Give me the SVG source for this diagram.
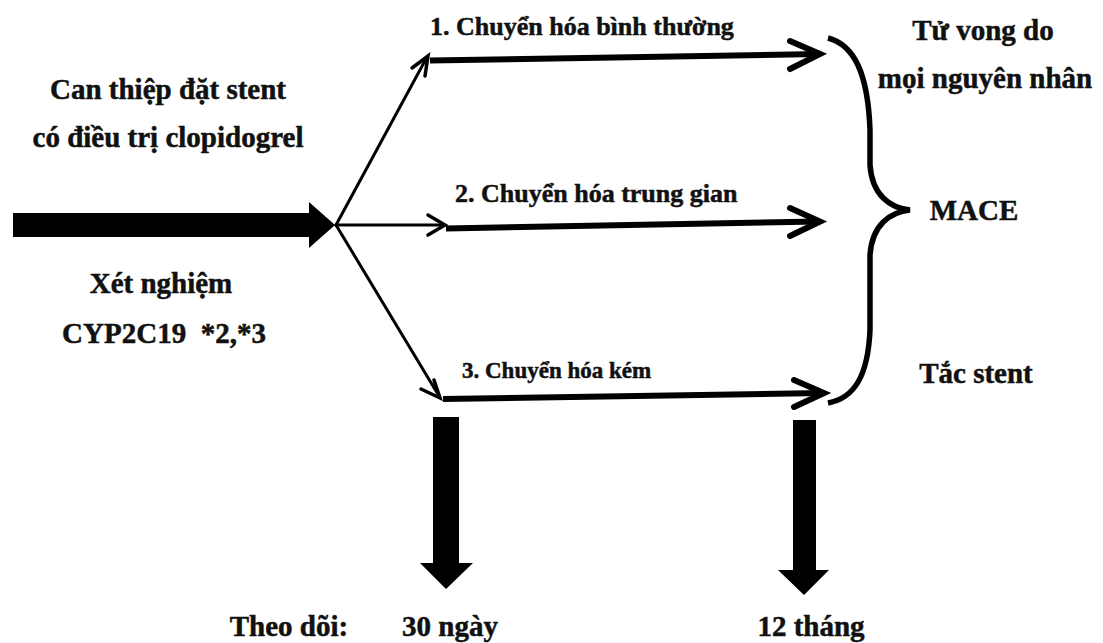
<svg xmlns="http://www.w3.org/2000/svg" width="1103" height="643" viewBox="0 0 1103 643">
<style>
text{font-family:"Liberation Serif","Times New Roman",serif;font-weight:bold;fill:#111;stroke:#111;stroke-width:0.5;}
.l{font-size:29px;text-anchor:middle;}
.b{font-size:26px;}
.s{font-size:23px;}
.thin{fill:none;stroke:#000;stroke-width:3;stroke-linecap:round;stroke-linejoin:round;}
.thick{fill:none;stroke:#000;stroke-width:6;stroke-linecap:butt;}
.chev{fill:none;stroke:#000;stroke-width:6;stroke-linecap:round;stroke-linejoin:miter;}
.chevt{fill:none;stroke:#000;stroke-width:3.5;stroke-linecap:round;stroke-linejoin:miter;}
.brace{fill:none;stroke:#000;stroke-width:5.5;stroke-linecap:butt;}
</style>
<rect width="1103" height="643" fill="#fff"/>
<g id="start">
<text class="l" x="168" y="99">Can thiệp đặt stent</text>
<text class="l" x="168" y="147">có điều trị clopidogrel</text>
<text class="l" x="161" y="293">Xét nghiệm</text>
<text class="l" x="164" y="343" xml:space="preserve">CYP2C19  *2,*3</text>
</g>
<g id="connectors">
<path d="M13,213 H309 V202 L335,225 L309,248 V237 H13 Z" fill="#000"/>
<path class="thin" d="M336,225 L427,57"/>
<path class="chevt" d="M412,68 L428,56 L425,76"/>
<path class="thin" d="M336,225 L443,225"/>
<path class="chevt" d="M428,215 L445,225 L428,235"/>
<path class="thin" d="M336,225 L439,396"/>
<path class="chevt" d="M434,380 L440,398 L421,389"/>
<path class="thick" d="M430,60.5 L818,54"/>
<path class="chev" d="M790,41 L820,54 L790,69"/>
<path class="thick" d="M446,228.5 L818,221.5"/>
<path class="chev" d="M790,208 L820,221.5 L790,236"/>
<path class="thick" d="M443,399 L822,393"/>
<path class="chev" d="M794,380 L824,393 L794,407"/>
<path d="M433,417 H459 V563 H473 L446,589 L420,563 H433 Z" fill="#000"/>
<path d="M793,420 H816 V570 H829 L804,595 L778,570 H793 Z" fill="#000"/>
</g>
<g id="branch1"><text class="b" x="430" y="35">1. Chuyển hóa bình thường</text></g>
<g id="branch2"><text class="b" x="455" y="202">2. Chuyển hóa trung gian</text></g>
<g id="branch3"><text class="s" x="462" y="378">3. Chuyển hóa kém</text></g>
<g id="brace">
<path class="brace" d="M828,38 C855,45 868,75 870,130 L870,165 C872,195 890,208 910,210 C890,212 872,225 870,255 L870,330 C868,375 855,398 828,403"/>
</g>
<g id="outcomes">
<text class="l" x="983" y="40">Tử vong do</text>
<text class="l" x="985" y="88">mọi nguyên nhân</text>
<text class="l" x="974" y="220">MACE</text>
<text class="l" x="976" y="383">Tắc stent</text>
</g>
<g id="followup">
<text class="l" x="289" y="636">Theo dõi:</text>
<text class="l" x="450" y="636">30 ngày</text>
<text class="l" x="811" y="636">12 tháng</text>
</g>
</svg>
